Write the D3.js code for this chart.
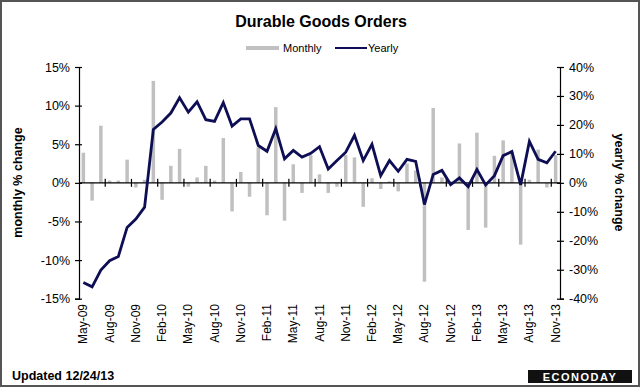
<!DOCTYPE html>
<html>
<head>
<meta charset="utf-8">
<script src="https://cdn.jsdelivr.net/npm/d3@7"></script>
<style>
  body { margin: 0; background: #fff; }
  svg { display: block; font-family: "Liberation Sans", Arial, sans-serif; }
</style>
</head>
<body>
<script>
const months = [
    "May-09","Jun-09","Jul-09","Aug-09","Sep-09","Oct-09","Nov-09","Dec-09",
    "Jan-10","Feb-10","Mar-10","Apr-10","May-10","Jun-10","Jul-10","Aug-10","Sep-10","Oct-10","Nov-10","Dec-10",
    "Jan-11","Feb-11","Mar-11","Apr-11","May-11","Jun-11","Jul-11","Aug-11","Sep-11","Oct-11","Nov-11","Dec-11",
    "Jan-12","Feb-12","Mar-12","Apr-12","May-12","Jun-12","Jul-12","Aug-12","Sep-12","Oct-12","Nov-12","Dec-12",
    "Jan-13","Feb-13","Mar-13","Apr-13","May-13","Jun-13","Jul-13","Aug-13","Sep-13","Oct-13","Nov-13"
]

// monthly % change (left axis)
const monthly = [
    3.9, -2.3, 7.4, 0.3, 0.3, 3.0, -0.6, 0.4,
    13.2, -2.2, 2.2, 4.4, -0.5, 0.7, 2.2, 0.3, 5.8, -3.7, 1.4, -1.8,
    4.6, -4.2, 9.8, -4.9, 2.4, -1.3, 3.6, 1.1, -1.3, -0.5, 3.6, 3.3,
    -3.1, 0.6, -0.8, 0.2, -1.1, 2.5, 1.6, -12.8, 9.7, 0.7, 0.2, 5.1,
    -6.1, 6.5, -5.8, 3.5, 5.5, 4.0, -8.0, 0.4, 4.3, -0.6, 3.6
]

// yearly % change (right axis)
const yearly = [
    -34.4, -35.9, -30.1, -26.9, -25.4, -15.4, -12.5, -8.4,
    18.4, 21.0, 24.1, 29.4, 24.4, 28.0, 21.8, 21.2, 27.7, 19.6, 22.1, 22.1,
    12.9, 10.9, 18.7, 8.3, 11.2, 8.9, 10.2, 12.5, 4.8, 7.7, 10.6, 16.4,
    7.7, 13.3, 2.5, 7.7, 4.0, 8.1, 7.4, -7.5, 2.9, 4.3, -0.6, 1.7,
    -1.3, 4.6, -0.7, 2.5, 9.4, 10.8, -0.7, 14.3, 8.1, 6.9, 10.9
]

const leftTicks = [-15, -10, -5, 0, 5, 10, 15]
const rightTicks = [-40, -30, -20, -10, 0, 10, 20, 30, 40]

const width = 640, height = 387
const margin = {top: 67, right: 80, bottom: 89, left: 79}

const svg = d3.select("body").append("svg")
    .attr("width", width)
    .attr("height", height)

// outer frame
svg.append("rect")
    .attr("x", 1).attr("y", 1)
    .attr("width", width - 2).attr("height", height - 2)
    .attr("fill", "#fff")
    .attr("stroke", "#555")
    .attr("stroke-width", 2)

const x = d3.scaleBand()
    .domain(months)
    .range([margin.left, width - margin.right])
    .padding(0)

const yL = d3.scaleLinear()
    .domain([-15, 15])
    .range([height - margin.bottom + 0.7, margin.top])

const yR = d3.scaleLinear()
    .domain([-40, 40])
    .range([height - margin.bottom + 0.7, margin.top])

// monthly bars
const barW = 3.5
svg.append("g")
    .attr("fill", "#c0c0c0")
    .selectAll("rect")
    .data(monthly)
    .join("rect")
    .attr("x", (d, i) => x(months[i]) + x.bandwidth() / 2 - barW / 2)
    .attr("y", d => yL(Math.max(0, d)))
    .attr("width", barW)
    .attr("height", d => Math.abs(yL(d) - yL(0)))

// zero line with category ticks
const zeroY = yL(0)
const xAxis = svg.append("g")
svg.append("line")
    .attr("x1", margin.left).attr("x2", width - margin.right)
    .attr("y1", zeroY).attr("y2", zeroY)
    .attr("stroke", "#000")
    .attr("stroke-width", 1.2)
xAxis.selectAll("line")
    .data(months.filter((m, i) => i % 3 === 0 && i > 0))
    .join("line")
    .attr("x1", d => x(d)).attr("x2", d => x(d))
    .attr("y1", zeroY - 4).attr("y2", zeroY + 4)
    .attr("stroke", "#000")
    .attr("stroke-width", 1.2)

// category labels (every third month)
svg.append("g")
    .attr("font-size", 12)
    .attr("fill", "#000")
    .selectAll("text")
    .data(months.filter((m, i) => i % 3 === 0))
    .join("text")
    .attr("transform", d => `translate(${x(d) + x.bandwidth() / 2 + 4},${height - margin.bottom + 6}) rotate(-90)`)
    .attr("text-anchor", "end")
    .text(d => d)

// yearly line
const line = d3.line()
    .x((d, i) => x(months[i]) + x.bandwidth() / 2)
    .y(d => yR(d))

svg.append("path")
    .attr("fill", "none")
    .attr("stroke", "#0e0e55")
    .attr("stroke-width", 2.8)
    .attr("stroke-linejoin", "miter")
    .attr("d", line(yearly))

// left axis
const leftAxis = svg.append("g")
    .attr("transform", `translate(${margin.left},0)`)
    .call(d3.axisLeft(yL).tickValues(leftTicks).tickFormat(d => d + "%").tickSize(4).tickPadding(5))
leftAxis.select(".domain").attr("stroke-width", 1.2)
leftAxis.selectAll(".tick line").attr("x1", 3).attr("stroke-width", 1.2)
leftAxis.selectAll("text").attr("font-size", 12.5).attr("font-family", "Liberation Sans, Arial, sans-serif")

// right axis
const rightAxis = svg.append("g")
    .attr("transform", `translate(${width - margin.right},0)`)
    .call(d3.axisRight(yR).tickValues(rightTicks).tickFormat(d => d + "%").tickSize(4).tickPadding(5))
rightAxis.select(".domain").attr("stroke-width", 1.2)
rightAxis.selectAll(".tick line").attr("x1", -3).attr("stroke-width", 1.2)
rightAxis.selectAll("text").attr("font-size", 12.5).attr("font-family", "Liberation Sans, Arial, sans-serif")

// axis titles
svg.append("text")
    .attr("transform", `translate(22,${(margin.top + height - margin.bottom) / 2}) rotate(-90)`)
    .attr("text-anchor", "middle")
    .attr("font-size", 12.5)
    .attr("font-weight", "bold")
    .text("monthly % change")

svg.append("text")
    .attr("transform", `translate(615,${(margin.top + height - margin.bottom) / 2}) rotate(90)`)
    .attr("text-anchor", "middle")
    .attr("font-size", 12.5)
    .attr("font-weight", "bold")
    .text("yearly % change")

// title
svg.append("text")
    .attr("x", 321).attr("y", 27)
    .attr("text-anchor", "middle")
    .attr("font-size", 16)
    .attr("font-weight", "bold")
    .text("Durable Goods  Orders")

// legend
const legend = svg.append("g").attr("font-size", 11)
legend.append("rect")
    .attr("x", 246).attr("y", 46).attr("width", 33).attr("height", 4)
    .attr("fill", "#c0c0c0")
legend.append("text").attr("x", 283).attr("y", 52).text("Monthly")
legend.append("line")
    .attr("x1", 335).attr("x2", 367).attr("y1", 48).attr("y2", 48)
    .attr("stroke", "#0e0e55").attr("stroke-width", 2)
legend.append("text").attr("x", 368).attr("y", 52).text("Yearly")

// footer
svg.append("text")
    .attr("x", 12).attr("y", 380)
    .attr("font-size", 12.5)
    .attr("font-weight", "bold")
    .text("Updated 12/24/13")

svg.append("rect")
    .attr("x", 528).attr("y", 370).attr("width", 104).attr("height", 13)
    .attr("fill", "#111")
svg.append("text")
    .attr("x", 580).attr("y", 381)
    .attr("text-anchor", "middle")
    .attr("font-size", 11)
    .attr("font-weight", "bold")
    .attr("letter-spacing", 1.5)
    .attr("fill", "#fff")
    .text("ECONODAY")
</script>
</body>
</html>
